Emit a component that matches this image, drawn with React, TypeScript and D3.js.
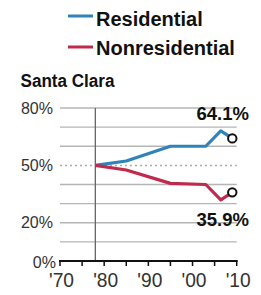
import React from 'react';
import * as d3 from 'd3';

// values
const years = [1978, 1985, 1995, 2003, 2006.4, 2009];
const residential = [50, 52.3, 60, 60, 68, 64.1];
const nonresidential = [50, 47.6, 40.6, 40, 32, 35.9];
const gridValues = [10, 20, 30, 40, 60, 70, 80];
const yTickLabels = [0, 20, 50, 80];
const xTickLabels = [1970, 1980, 1990, 2000, 2010];

const BLUE = '#2f83b8';
const RED = '#c02a4c';
const FONT = '"Liberation Sans", Arial, sans-serif';

function App() {
  const x = d3.scaleLinear().domain([1970, 2010]).range([60, 236.7]);
  const y = d3.scaleLinear().domain([0, 80]).range([261, 108]);

  const line = d3.line<[number, number]>()
    .x(d => x(d[0]))
    .y(d => y(d[1]));

  const resPts = years.map((yr, i) => [yr, residential[i]] as [number, number]);
  const nonPts = years.map((yr, i) => [yr, nonresidential[i]] as [number, number]);
  const minorTicks = d3.range(1970, 2011, 5);
  const last = years.length - 1;

  return (
    <svg width={261} height={295} style={{ position: 'absolute', left: 0, top: 0, background: '#fff' }} fontFamily={FONT}>
      {/* legend */}
      <line x1={68} x2={93} y1={16} y2={16} stroke={BLUE} strokeWidth={3} />
      <text x={96} y={25.5} fontSize={20} fontWeight="bold" fill="#111">Residential</text>
      <line x1={68} x2={93} y1={47} y2={47} stroke={RED} strokeWidth={3} />
      <text x={96} y={55} fontSize={20} fontWeight="bold" fill="#111">Nonresidential</text>

      <text x={20.5} y={86.5} fontSize={17.5} fontWeight="bold" fill="#111" textLength={94} lengthAdjust="spacingAndGlyphs">Santa Clara</text>

      {/* grid */}
      {gridValues.map(v => (
        <line key={v} x1={x(1970)} x2={x(2010)} y1={y(v)} y2={y(v)} stroke="#b5b5b5" strokeWidth={1.3} />
      ))}
      <line x1={x(1970)} x2={x(2010)} y1={y(50)} y2={y(50)} stroke="#aaa" strokeWidth={1.5} strokeDasharray="2,3" />

      {yTickLabels.map(v => (
        <text key={v} x={v === 0 ? 56 : 53} y={y(v) + (v === 0 ? 6.5 : 5.5)} textAnchor="end" fontSize={16} fill="#333">{v}%</text>
      ))}

      {/* start-year marker */}
      <line x1={x(1978)} x2={x(1978)} y1={y(80)} y2={y(0)} stroke="#666" strokeWidth={1.3} />

      {/* x axis */}
      <line x1={x(1970) - 1} x2={x(2010) + 1} y1={y(0)} y2={y(0)} stroke="#111" strokeWidth={2} />
      {minorTicks.map(t => (
        <line key={t} x1={x(t)} x2={x(t)} y1={y(0)} y2={y(0) + 5} stroke="#111" strokeWidth={1.5} />
      ))}
      {xTickLabels.map(t => (
        <text key={t} x={x(t) + 1.5} y={287} textAnchor="middle" fontSize={20} fill="#333" textLength={25} lengthAdjust="spacingAndGlyphs">
          {"'" + String(t).slice(2)}
        </text>
      ))}

      {/* series */}
      <path d={line(resPts) || ''} fill="none" stroke={BLUE} strokeWidth={3.2} strokeLinejoin="round" />
      <path d={line(nonPts) || ''} fill="none" stroke={RED} strokeWidth={3.2} strokeLinejoin="round" />
      <circle cx={x(years[last])} cy={y(residential[last])} r={4.2} fill="#fff" stroke="#111" strokeWidth={2} />
      <circle cx={x(years[last])} cy={y(nonresidential[last])} r={4.2} fill="#fff" stroke="#111" strokeWidth={2} />

      <text x={249} y={120} textAnchor="end" fontSize={18.5} fontWeight="bold" fill="#111">{residential[last]}%</text>
      <text x={249} y={226} textAnchor="end" fontSize={18.5} fontWeight="bold" fill="#111">{nonresidential[last]}%</text>
    </svg>
  );
}

export default App;
